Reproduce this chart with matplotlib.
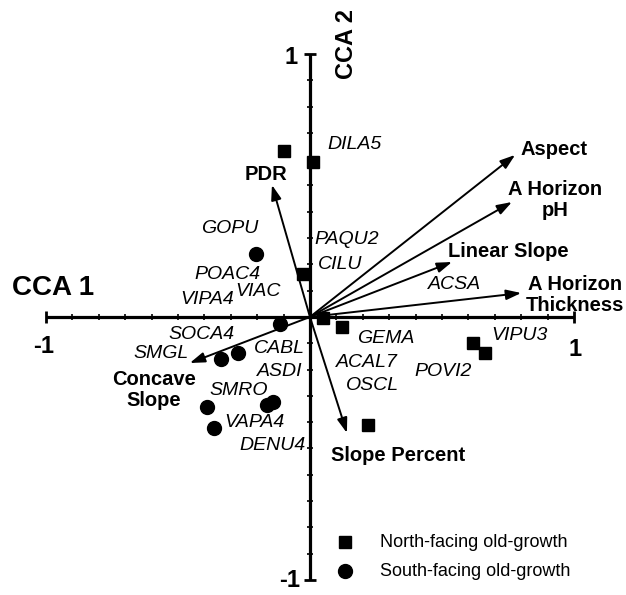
"""CCA biplot: old-growth plots on the first two canonical axes with
environmental vectors drawn from the origin."""

import matplotlib.pyplot as plt
import numpy as np

plt.rcParams["font.family"] = ["Liberation Sans", "DejaVu Sans"]

# plot scores on CCA 1 / CCA 2
north_x = [-0.098, 0.011, -0.027, 0.050, 0.120, 0.220, 0.617, 0.663]
north_y = [0.631, 0.589, 0.163, -0.004, -0.040, -0.410, -0.099, -0.137]
south_x = [-0.205, -0.114, -0.273, -0.337, -0.163, -0.140, -0.390, -0.364]
south_y = [0.240, -0.027, -0.137, -0.160, -0.335, -0.323, -0.342, -0.422]

# environmental vectors (arrow tips)
env_names = ["Aspect", "A Horizon\npH", "Linear Slope", "A Horizon\nThickness",
             "PDR", "Slope Percent", "Concave\nSlope"]
env_x = [0.777, 0.765, 0.538, 0.800, -0.144, 0.140, -0.455]
env_y = [0.616, 0.437, 0.209, 0.091, 0.502, -0.441, -0.175]
env_label_xy = [(0.924, 0.635), (0.928, 0.445), (0.750, 0.247), (1.004, 0.084),
                (-0.167, 0.540), (0.333, -0.525), (-0.591, -0.278)]

# species codes and where their names sit
species = ["DILA5", "PAQU2", "CILU", "GOPU", "POAC4", "VIPA4", "VIAC", "SOCA4",
           "SMGL", "CABL", "ASDI", "SMRO", "VAPA4", "DENU4", "GEMA", "ACAL7",
           "OSCL", "POVI2", "VIPU3", "ACSA"]
species_xy = [(0.170, 0.654), (0.140, 0.293), (0.114, 0.198), (-0.303, 0.335),
              (-0.314, 0.160), (-0.390, 0.065), (-0.197, 0.095), (-0.409, -0.065),
              (-0.564, -0.137), (-0.117, -0.118), (-0.114, -0.209), (-0.269, -0.278),
              (-0.212, -0.403), (-0.140, -0.490), (0.288, -0.080), (0.216, -0.175),
              (0.235, -0.262), (0.504, -0.209), (0.792, -0.072), (0.549, 0.122)]

ticks = np.round(np.arange(-0.9, 0.95, 0.1), 1)
ticks = ticks[ticks != 0]

fig = plt.figure(figsize=(6.26, 5.95), dpi=100)
ax = fig.add_axes([0, 0, 1, 1])
ax.set_xlim(-1.174, 1.197)
ax.set_ylim(-1.057, 1.205)
ax.axis("off")

# cross-shaped axes with tick marks every 0.1
ax.plot([-1, 1], [0, 0], color="black", lw=2.3, solid_capstyle="butt", zorder=2)
ax.plot([0, 0], [-1, 1], color="black", lw=2.3, solid_capstyle="butt", zorder=2)
ax.plot(ticks, np.zeros_like(ticks), ls="none", marker="|", ms=5, mew=1.2, color="black")
ax.plot(np.zeros_like(ticks), ticks, ls="none", marker="_", ms=5, mew=1.2, color="black")
ax.plot([-1, 1], [0, 0], ls="none", marker="|", ms=9, mew=2, color="black")
ax.plot([0, 0], [-1, 1], ls="none", marker="_", ms=9, mew=2, color="black")

bold = dict(fontweight="bold", ha="center", va="center")
ax.text(-0.973, 0.110, "CCA 1", fontsize=20, **bold)
ax.text(0.140, 1.038, "CCA 2", fontsize=17, rotation=90, **bold)
ax.text(-1.008, -0.114, "-1", fontsize=17, **bold)
ax.text(1.004, -0.122, "1", fontsize=17, **bold)
ax.text(-0.072, 0.985, "1", fontsize=17, **bold)
ax.text(-0.076, -1.000, "-1", fontsize=17, **bold)

for x, y in zip(env_x, env_y):
    ax.annotate("", xy=(x, y), xytext=(0, 0), zorder=3,
                arrowprops=dict(arrowstyle="-|>,head_length=0.5,head_width=0.17",
                                mutation_scale=18, lw=1.4, color="black",
                                shrinkA=0, shrinkB=0))
for name, (x, y) in zip(env_names, env_label_xy):
    ax.text(x, y, name, fontsize=14.5, linespacing=1.15, **bold)

for name, (x, y) in zip(species, species_xy):
    ax.text(x, y, name, fontsize=14, style="italic", ha="center", va="center")

ax.plot(north_x, north_y, ls="none", marker="s", ms=9, color="black", zorder=4)
ax.plot(south_x, south_y, ls="none", marker="o", ms=10, color="black", zorder=4)

# legend
ax.plot([0.133], [-0.856], ls="none", marker="s", ms=9, color="black")
ax.plot([0.133], [-0.966], ls="none", marker="o", ms=10, color="black")
ax.text(0.265, -0.856, "North-facing old-growth", fontsize=13, va="center")
ax.text(0.265, -0.966, "South-facing old-growth", fontsize=13, va="center")

fig.savefig("out.png", dpi=100)
